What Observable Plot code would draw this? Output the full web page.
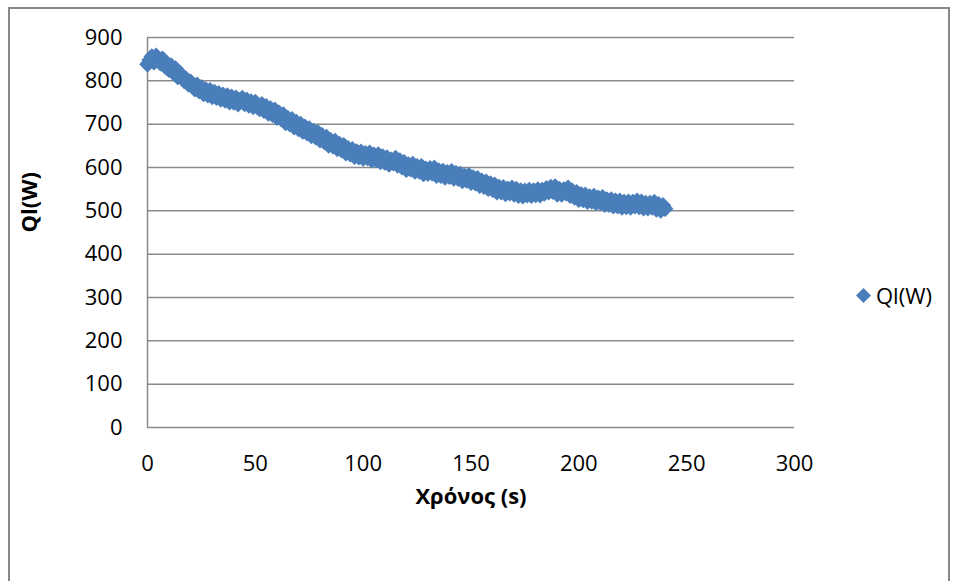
<!DOCTYPE html>
<html>
<head>
<meta charset="utf-8">
<script src="https://cdn.jsdelivr.net/npm/d3@7"></script>
<script src="https://cdn.jsdelivr.net/npm/@observablehq/plot@0.6"></script>
<style>
  html, body { margin: 0; padding: 0; background: #fff; }
  body { width: 957px; height: 581px; overflow: hidden; position: relative; font-family: "Open Sans", Lato, sans-serif; }
  #frame { position: absolute; left: 8px; top: 7px; width: 942px; height: 620px; border: 2px solid #878787; box-sizing: border-box; }
  #chart { position: absolute; left: 0; top: 0; }
  #legend { position: absolute; left: 855px; top: 280px; font-size: 22px; display: flex; align-items: center; gap: 4px; color: #000; }
</style>
</head>
<body>
<div id="frame"></div>
<div id="chart"></div>
<div id="legend"><svg width="17" height="17" viewBox="-8.5 -8.5 17 17"><polygon points="0,-7.5 7.5,0 0,7.5 -7.5,0" fill="#4a7ebb"/></svg><span>Ql(W)</span></div>
<script>
const seriesName = "Ql(W)";
const xLabel = "Χρόνος (s)";
const yLabel = "Ql(W)";

// time (s), one reading per second
const times = [
  0, 1, 2, 3, 4, 5, 6, 7, 8, 9,
  10, 11, 12, 13, 14, 15, 16, 17, 18, 19,
  20, 21, 22, 23, 24, 25, 26, 27, 28, 29,
  30, 31, 32, 33, 34, 35, 36, 37, 38, 39,
  40, 41, 42, 43, 44, 45, 46, 47, 48, 49,
  50, 51, 52, 53, 54, 55, 56, 57, 58, 59,
  60, 61, 62, 63, 64, 65, 66, 67, 68, 69,
  70, 71, 72, 73, 74, 75, 76, 77, 78, 79,
  80, 81, 82, 83, 84, 85, 86, 87, 88, 89,
  90, 91, 92, 93, 94, 95, 96, 97, 98, 99,
  100, 101, 102, 103, 104, 105, 106, 107, 108, 109,
  110, 111, 112, 113, 114, 115, 116, 117, 118, 119,
  120, 121, 122, 123, 124, 125, 126, 127, 128, 129,
  130, 131, 132, 133, 134, 135, 136, 137, 138, 139,
  140, 141, 142, 143, 144, 145, 146, 147, 148, 149,
  150, 151, 152, 153, 154, 155, 156, 157, 158, 159,
  160, 161, 162, 163, 164, 165, 166, 167, 168, 169,
  170, 171, 172, 173, 174, 175, 176, 177, 178, 179,
  180, 181, 182, 183, 184, 185, 186, 187, 188, 189,
  190, 191, 192, 193, 194, 195, 196, 197, 198, 199,
  200, 201, 202, 203, 204, 205, 206, 207, 208, 209,
  210, 211, 212, 213, 214, 215, 216, 217, 218, 219,
  220, 221, 222, 223, 224, 225, 226, 227, 228, 229,
  230, 231, 232, 233, 234, 235, 236, 237, 238, 239,
  240
];

// Ql (W)
const power = [
  838, 848, 856, 843, 858, 846, 841, 851, 834, 830,
  826, 835, 819, 828, 809, 818, 808, 800, 804, 792,
  798, 786, 781, 791, 776, 785, 770, 780, 767, 778,
  763, 774, 761, 771, 757, 768, 755, 766, 751, 763,
  750, 761, 746, 756, 760, 747, 756, 743, 752, 740,
  751, 739, 735, 746, 731, 741, 725, 736, 722, 733,
  715, 726, 712, 722, 703, 714, 700, 711, 693, 705,
  689, 700, 683, 694, 679, 690, 673, 684, 670, 681,
  663, 674, 659, 670, 651, 663, 649, 661, 643, 654,
  640, 651, 633, 644, 631, 642, 625, 637, 624, 636,
  621, 633, 622, 634, 617, 629, 618, 630, 613, 625,
  612, 623, 607, 618, 610, 622, 605, 616, 601, 612,
  595, 607, 596, 608, 591, 603, 591, 603, 585, 597,
  586, 598, 587, 599, 581, 593, 581, 592, 577, 589,
  579, 591, 575, 587, 574, 585, 569, 581, 570, 582,
  565, 577, 564, 575, 558, 569, 556, 567, 551, 563,
  549, 560, 543, 555, 543, 554, 539, 551, 541, 553,
  538, 550, 535, 547, 534, 546, 536, 548, 535, 547,
  537, 549, 536, 548, 540, 552, 543, 555, 544, 556,
  538, 550, 538, 549, 541, 553, 535, 546, 531, 543,
  526, 538, 525, 537, 521, 533, 522, 534, 518, 530,
  519, 531, 514, 526, 514, 526, 511, 523, 511, 523,
  508, 520, 509, 521, 508, 520, 511, 523, 509, 521,
  506, 518, 506, 518, 508, 520, 503, 515, 501, 513,
  505
];

const yTicks = [0, 100, 200, 300, 400, 500, 600, 700, 800, 900];
const xTicks = [0, 50, 100, 150, 200, 250, 300];

const data = times.map((t, i) => ({t, q: power[i]}));

const chart = Plot.plot({
  width: 957,
  height: 581,
  marginLeft: 147,
  marginRight: 163,
  marginTop: 37,
  marginBottom: 154,
  style: {fontFamily: "'Open Sans', Lato, sans-serif", fontSize: "22px", color: "#000", background: "transparent", overflow: "visible"},
  x: {domain: [0, 300]},
  y: {domain: [0, 900]},
  marks: [
    Plot.gridY(yTicks, {stroke: "#8a8a8a", strokeOpacity: 1, strokeWidth: 1.5}),
    Plot.ruleX([0], {stroke: "#8a8a8a", strokeWidth: 1.5}),
    Plot.axisY(yTicks, {tickSize: 0, tickPadding: 25, label: null, fontSize: 22}),
    Plot.axisX(xTicks, {tickSize: 0, tickPadding: 28, label: null, fontSize: 22}),
    Plot.dot(data, {x: "t", y: "q", symbol: "diamond2", r: 7.5, fill: "#4a7ebb", stroke: "none"}),
    Plot.text([xLabel], {frameAnchor: "bottom", dy: 76, fontWeight: "bold", fontSize: 22}),
    Plot.text([yLabel], {frameAnchor: "left", dx: -118, rotate: -90, fontWeight: "bold", fontSize: 22})
  ]
});
document.getElementById("chart").appendChild(chart);
</script>
</body>
</html>
